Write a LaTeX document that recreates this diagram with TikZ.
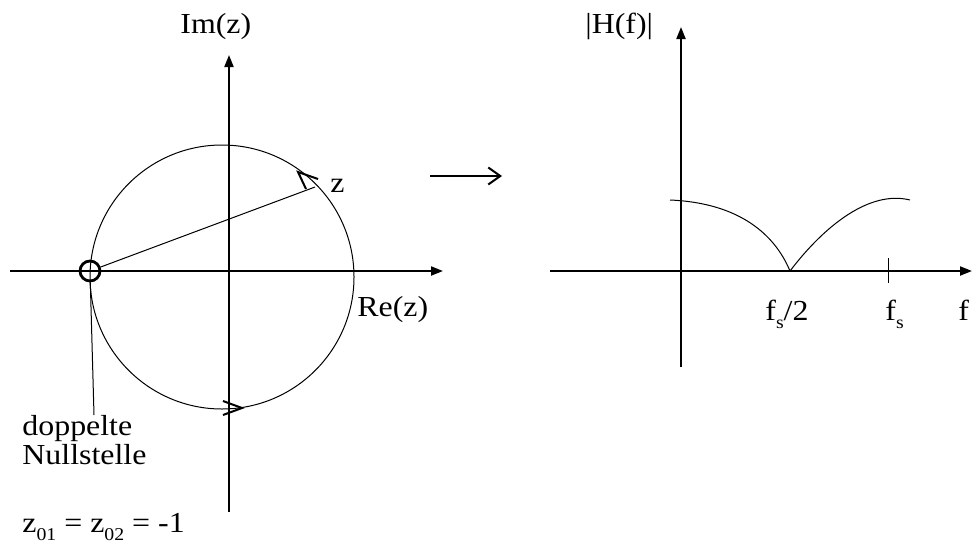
\documentclass[tikz,border=0pt]{standalone}
\usepackage{fontspec}
\setmainfont{Liberation Serif}[FakeStretch=1.1]
\usetikzlibrary{arrows.meta}
\newcommand{\lsub}[1]{\raisebox{-4pt}{\fontsize{9}{9}\selectfont #1}}
\begin{document}
\begin{tikzpicture}[x=0.5pt,y=-0.5pt,
  lbl/.style={inner sep=0pt, anchor=base west, font=\fontsize{14.5}{17}\selectfont},
  axis/.style={line width=1pt, -{Triangle[length=6pt,width=4.5pt]}},
  thinline/.style={line width=0.5pt},
  tipline/.style={line width=1pt, line join=miter}]
\useasboundingbox (0,0) rectangle (972,546);
% ---------- left: z-plane ----------
\coordinate (lx0) at (10,271);
\coordinate (lx1) at (443,271);
\coordinate (ly0) at (229,512);
\coordinate (ly1) at (229,55);
\draw[axis] (lx0) -- (lx1);
\draw[axis] (ly0) -- (ly1);
\coordinate (C) at (222,277);
\draw[thinline] (C) circle[radius=66pt];
\node[circle, draw, line width=1.4pt, minimum size=10pt, inner sep=0pt] (zero) at (90,271) {};
\coordinate (zpt) at (315,187);
\draw[thinline] (zero) -- (zpt);
\coordinate (lead) at (94,415);
\draw[thinline] (zero) -- (lead);
% arrowheads on the unit circle
\coordinate (t1) at (298,172);
\coordinate (t1a) at (318,179);
\coordinate (t1b) at (306,189);
\draw[tipline] (t1a) -- (t1) -- (t1b);
\coordinate (t2) at (242,408);
\coordinate (t2a) at (223,401);
\coordinate (t2b) at (223,415);
\draw[tipline] (t2a) -- (t2) -- (t2b);
% labels
\node[lbl] (im) at (180,33) {Im(z)};
\node[lbl] (re) at (357,316) {Re(z)};
\node[lbl] (zl) at (330,192) {z};
\node[lbl] (dop) at (22,435) {doppelte};
\node[lbl] (nul) at (22,464) {Nullstelle};
\node[lbl] (zeq) at (22,532) {z\lsub{01} = z\lsub{02} = -1};
% ---------- middle arrow ----------
\coordinate (ma) at (430,176);
\coordinate (mb) at (502,176);
\draw[line width=1pt, -{Straight Barb[length=6pt,width=8.5pt,line width=1pt]}] (ma) -- (mb);
% ---------- right: magnitude ----------
\coordinate (rx0) at (550,271);
\coordinate (rx1) at (972,271);
\coordinate (ry0) at (681,367);
\coordinate (ry1) at (681,27);
\draw[axis] (rx0) -- (rx1);
\draw[axis] (ry0) -- (ry1);
\coordinate (h0) at (670,200);
\coordinate (hz) at (790,271);
\coordinate (h1) at (910,200);
\draw[thinline] (h0) .. controls (740,203) and (775,235) .. (hz);
\draw[thinline] (hz) .. controls (825,225) and (870,190) .. (h1);
\coordinate (tk0) at (888,258);
\coordinate (tk1) at (888,283);
\draw[thinline] (tk0) -- (tk1);
\node[lbl] (hf) at (585,33) {|H(f)|};
\node[lbl] (fs2) at (765,320) {f\lsub{s}/2};
\node[lbl] (fs) at (885,320) {f\lsub{s}};
\node[lbl] (f) at (958,320) {f};
\end{tikzpicture}
\end{document}
